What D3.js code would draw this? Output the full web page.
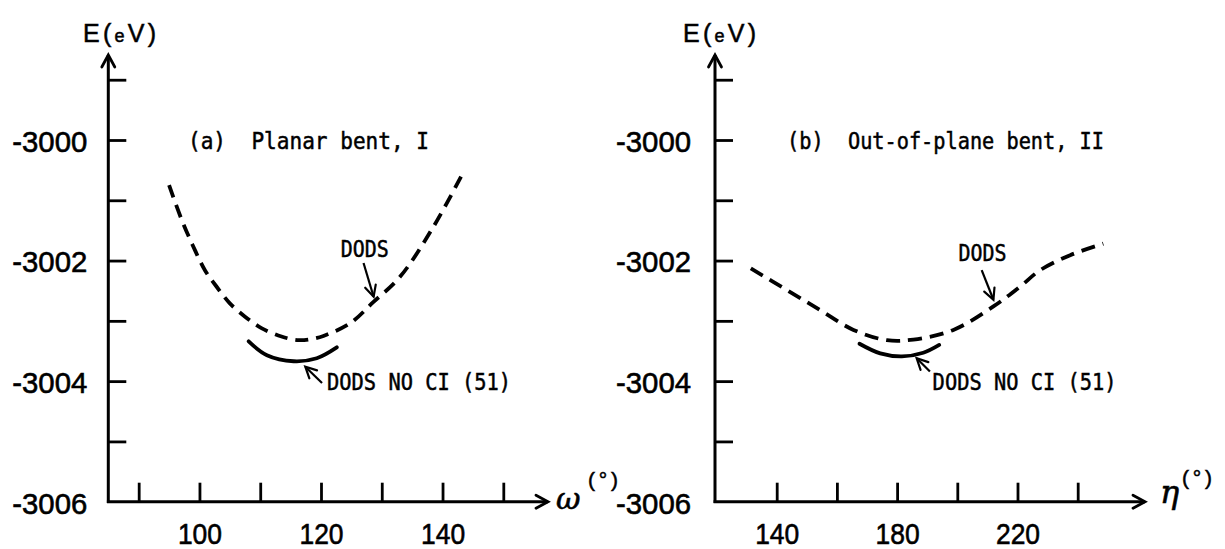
<!DOCTYPE html>
<html><head><meta charset="utf-8">
<script src="https://cdn.jsdelivr.net/npm/d3@7"></script>
<style>html,body{margin:0;padding:0;background:#fff;} svg{display:block}</style>
</head><body>
<svg id="c" width="1225" height="549"></svg>
<script>
// ---------------- data ----------------
const titleA = "(a)  Planar bent, I";
const titleB = "(b)  Out-of-plane bent, II";
const yTickValues = [-3006, -3005, -3004, -3003, -3002, -3001, -3000, -2999];
const yLabelValues = [-3006, -3004, -3002, -3000];
const xTicksA = [90, 100, 110, 120, 130, 140, 150];
const xLabelsA = [100, 120, 140];
const xTicksB = [140, 160, 180, 200, 220, 240];
const xLabelsB = [140, 180, 220];

// Panel (a): planar bent, omega (deg) vs E (eV)
const dodsA_omega = [95.0, 97.1, 99.0, 100.9, 102.8, 105.0, 107.5, 110.2, 113.5, 116.3, 118.5, 120.4, 124.8, 128.6, 133.0, 138.5, 143.6];
const dodsA_E = [-3000.75, -3001.33, -3001.77, -3002.16, -3002.43, -3002.71, -3002.93, -3003.12, -3003.26, -3003.32, -3003.30, -3003.25, -3003.04, -3002.69, -3002.27, -3001.44, -3000.50];
const noCiA_omega = [108.1, 111.1, 115.5, 119.3, 122.6];
const noCiA_E = [-3003.34, -3003.57, -3003.67, -3003.62, -3003.44];

// Panel (b): out-of-plane bent, eta (deg) vs E (eV)
const dodsB_eta = [131.4, 143.4, 154.4, 165.5, 176.6, 185.4, 198.7, 212, 220.9, 227.5, 237.5, 248.5];
const dodsB_E = [-3002.13, -3002.49, -3002.82, -3003.15, -3003.32, -3003.31, -3003.15, -3002.76, -3002.43, -3002.16, -3001.91, -3001.72];
const noCiB_eta = [167.5, 174.4, 181.6, 188.7, 194];
const noCiB_E = [-3003.38, -3003.54, -3003.59, -3003.53, -3003.40];

const labelDods = "DODS";
const labelNoCi = "DODS NO CI (51)";

// ---------------- drawing ----------------
const svg = d3.select("#c");
const MONO = "'DejaVu Sans Mono', 'Liberation Mono', monospace";
const NARROW = "'Liberation Sans Narrow', 'Liberation Sans', 'Arial Narrow', sans-serif";

const y = d3.scaleLinear().domain([-3006, -3000]).range([501.7, 140]);

function zip(xs, ys) { return xs.map((v, i) => ({x: v, y: ys[i]})); }

function arrowHead(g, x1, y1, x2, y2, len, half, width) {
  const a = Math.atan2(y2 - y1, x2 - x1);
  const bx = x2 - len * Math.cos(a), by = y2 - len * Math.sin(a);
  const px = -Math.sin(a) * half, py = Math.cos(a) * half;
  g.append("path")
    .attr("d", `M${bx + px},${by + py} L${x2},${y2} L${bx - px},${by - py}`)
    .attr("fill", "none").attr("stroke", "#000").attr("stroke-width", width)
    .attr("stroke-linejoin", "miter").attr("stroke-linecap", "round");
}

function ink(sel, w) { return sel.attr("stroke", "#000").attr("stroke-width", w); }

function drawPanel(cfg) {
  const x = d3.scaleLinear().domain(cfg.xDomain).range(cfg.xRange);
  const g = svg.append("g");
  const x0 = cfg.xRange[0], yAxisY = y(-3006);

  // y axis ticks + labels
  const ya = d3.axisLeft(y).tickValues(yTickValues).tickSize(-18).tickSizeOuter(0)
    .tickPadding(cfg.yPad)
    .tickFormat(v => yLabelValues.includes(v) ? String(v) : "");
  const gy = g.append("g").attr("transform", `translate(${x0},0)`).call(ya);
  gy.select(".domain").remove();
  gy.selectAll(".tick line").attr("stroke", "#000").attr("stroke-width", 2.8)
    .filter(d => d === -3006).remove();
  gy.selectAll(".tick text").attr("font-family", NARROW).attr("font-size", 30)
    .attr("fill", "#000").attr("dy", "0.38em")
    .each(function () {
      const t = d3.select(this).text();
      if (t) ink(d3.select(this).attr("textLength", t.length * 15).attr("lengthAdjust", "spacingAndGlyphs"), 0.6);
    });

  // x axis ticks + labels
  const xa = d3.axisBottom(x).tickValues(cfg.xTicks).tickSize(-19).tickSizeOuter(0)
    .tickPadding(21)
    .tickFormat(v => cfg.xLabels.includes(v) ? String(v) : "");
  const gx = g.append("g").attr("transform", `translate(0,${yAxisY})`).call(xa);
  gx.select(".domain").remove();
  gx.selectAll(".tick line").attr("stroke", "#000").attr("stroke-width", 2.8);
  gx.selectAll(".tick text").attr("font-family", NARROW).attr("font-size", 30)
    .attr("fill", "#000")
    .each(function () {
      const t = d3.select(this).text();
      if (t) ink(d3.select(this).attr("textLength", t.length * 14.7).attr("lengthAdjust", "spacingAndGlyphs"), 0.6);
    });

  // axis lines with arrows
  const yTop = y(-2998.59);
  g.append("line").attr("x1", x0).attr("y1", yAxisY + 1.4).attr("x2", x0).attr("y2", yTop)
    .attr("stroke", "#000").attr("stroke-width", 3);
  arrowHead(g, x0, yAxisY, x0, yTop, 12, 6.5, 2.8);
  g.append("line").attr("x1", x0 - 1.4).attr("y1", yAxisY).attr("x2", cfg.xArrowEnd).attr("y2", yAxisY)
    .attr("stroke", "#000").attr("stroke-width", 3);
  arrowHead(g, x0, yAxisY, cfg.xArrowEnd, yAxisY, 12, 6.5, 2.8);

  // y-axis title E(eV)
  const et = ink(g.append("text").attr("x", cfg.eX).attr("y", 42)
    .attr("font-family", NARROW).attr("font-size", 25).attr("fill", "#000")
    .attr("textLength", 73).attr("lengthAdjust", "spacing"), 0.5);
  et.append("tspan").text("E(");
  et.append("tspan").attr("font-size", 18).text("e");
  et.append("tspan").text("V)");

  // x-axis symbol
  ink(g.append("text").attr("x", cfg.symX).attr("y", cfg.symY)
    .attr("font-family", "'DejaVu Serif', serif").attr("font-style", "italic")
    .attr("font-size", cfg.symSize).attr("fill", "#000").text(cfg.sym), 0.6);
  ink(g.append("text").attr("x", cfg.supX).attr("y", cfg.supY)
    .attr("font-family", NARROW).attr("font-size", 21).attr("fill", "#000")
    .attr("textLength", 30).attr("lengthAdjust", "spacing").text("(°)"), 0.5);

  // panel title
  ink(g.append("text").attr("x", cfg.titleX).attr("y", 148.5)
    .attr("font-family", MONO).attr("font-size", 23).attr("fill", "#000")
    .attr("xml:space", "preserve").style("white-space", "pre")
    .attr("textLength", cfg.titleLen).attr("lengthAdjust", "spacingAndGlyphs")
    .text(cfg.title), 0.5);

  // curves
  const line = d3.line().x(d => x(d.x)).y(d => y(d.y)).curve(d3.curveCatmullRom.alpha(0.5));
  g.append("path").datum(zip(cfg.dodsX, cfg.dodsY)).attr("d", line)
    .attr("fill", "none").attr("stroke", "#000").attr("stroke-width", 3.8)
    .attr("stroke-dasharray", cfg.dash);
  g.append("path").datum(zip(cfg.noCiX, cfg.noCiY)).attr("d", line)
    .attr("fill", "none").attr("stroke", "#000").attr("stroke-width", 3.8)
    .attr("stroke-linecap", "round");

  // annotations
  const a = cfg.ann;
  ink(g.append("text").attr("x", x(a.dodsLabel[0])).attr("y", y(a.dodsLabel[1]) + 8.5)
    .attr("text-anchor", "middle").attr("font-family", MONO).attr("font-size", 23)
    .attr("fill", "#000").attr("textLength", 48).attr("lengthAdjust", "spacingAndGlyphs")
    .text(labelDods), 0.5);
  const d1 = [x(a.dodsArrow[0]), y(a.dodsArrow[1]), x(a.dodsArrow[2]), y(a.dodsArrow[3])];
  g.append("line").attr("x1", d1[0]).attr("y1", d1[1]).attr("x2", d1[2]).attr("y2", d1[3])
    .attr("stroke", "#000").attr("stroke-width", 2.2);
  arrowHead(g, d1[0], d1[1], d1[2], d1[3], 11, 5.5, 2.2);

  ink(g.append("text").attr("x", x(a.noCiLabel[0])).attr("y", y(a.noCiLabel[1]) + 8.5)
    .attr("font-family", MONO).attr("font-size", 23).attr("fill", "#000")
    .attr("xml:space", "preserve").style("white-space", "pre")
    .attr("textLength", 184).attr("lengthAdjust", "spacingAndGlyphs")
    .text(labelNoCi), 0.5);
  const d2 = [x(a.noCiArrow[0]), y(a.noCiArrow[1]), x(a.noCiArrow[2]), y(a.noCiArrow[3])];
  g.append("line").attr("x1", d2[0]).attr("y1", d2[1]).attr("x2", d2[2]).attr("y2", d2[3])
    .attr("stroke", "#000").attr("stroke-width", 2.2);
  arrowHead(g, d2[0], d2[1], d2[2], d2[3], 11, 5.5, 2.2);
}

drawPanel({
  xDomain: [85, 150], xRange: [108.3, 503.3],
  xTicks: xTicksA, xLabels: xLabelsA, xArrowEnd: 548,
  yPad: 21, eX: 83,
  sym: "ω", symX: 556, symY: 509, symSize: 30, supX: 588, supY: 487,
  title: titleA, titleX: 188, titleLen: 241,
  dodsX: dodsA_omega, dodsY: dodsA_E, noCiX: noCiA_omega, noCiY: noCiA_E,
  dash: "13,8",
  ann: {
    dodsLabel: [127.2, -3001.80], dodsArrow: [127.0, -3002.04, 128.66, -3002.60],
    noCiLabel: [121.0, -3004.01], noCiArrow: [120.17, -3004.03, 117.42, -3003.76]
  }
});

drawPanel({
  xDomain: [119.5, 240], xRange: [715, 1077.7],
  xTicks: xTicksB, xLabels: xLabelsB, xArrowEnd: 1145,
  yPad: 24, eX: 683,
  sym: "η", symX: 1160, symY: 503, symSize: 32, supX: 1182, supY: 485,
  title: titleB, titleX: 787, titleLen: 317,
  dodsX: dodsB_eta, dodsY: dodsB_E, noCiX: noCiB_eta, noCiY: noCiB_E,
  dash: "14,8",
  ann: {
    dodsLabel: [208.4, -3001.87], dodsArrow: [208.1, -3002.16, 212.0, -3002.65],
    noCiLabel: [191.8, -3004.01], noCiArrow: [190.9, -3003.84, 186.5, -3003.62]
  }
});
</script>
</body></html>
